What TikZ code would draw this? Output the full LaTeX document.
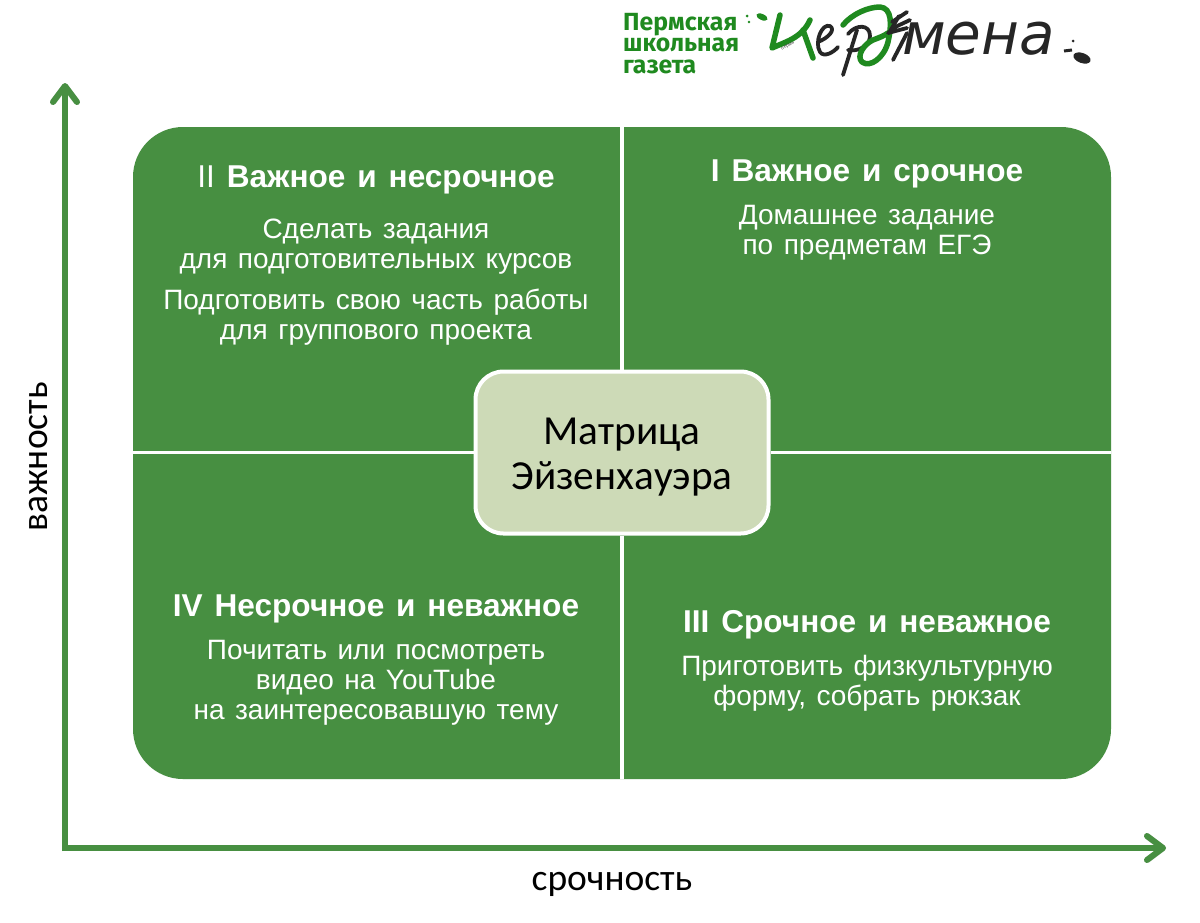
\documentclass[tikz,border=0pt]{standalone}
\usepackage{fontspec}
\setmainfont[WordSpace=1.35]{Liberation Sans}
\newfontfamily\calfont{Carlito}
\newfontfamily\logofont{Fira Sans}
\newfontfamily\handfont{DejaVu Sans}
\usetikzlibrary{arrows.meta}
\definecolor{mgreen}{HTML}{478F41}
\definecolor{cgreen}{HTML}{CDDAB7}
\definecolor{lgreen}{HTML}{1F8A1F}
\definecolor{shadowgrey}{HTML}{DADADA}
\tikzset{
  x=1pt,y=-1pt,
  quad/.style={inner sep=0,align=center,text=white,font=\fontsize{31.6}{34}\selectfont,anchor=center},
  body/.style={inner sep=0,align=center,text=white,font=\fontsize{28}{30}\selectfont,anchor=center},
  axisline/.style={draw=mgreen,line width=6pt,-{Straight Barb[length=16pt,width=24pt,line width=6pt,round]}},
  axisshadow/.style={draw=shadowgrey,line width=6pt,-{Straight Barb[length=16pt,width=24pt,line width=6pt,round]}},
  axislabel/.style={inner sep=0,font=\calfont\fontsize{37.5}{40}\selectfont},
  logotext/.style={inner sep=0,anchor=west,align=left,text=lgreen,font=\logofont\bfseries\fontsize{24.8}{21.5}\selectfont},
  logoink/.style={draw=black!85,line width=3.8pt,line cap=round,line join=round},
  logogreen/.style={draw=lgreen,line width=5.5pt,line cap=round,line join=round},
  divider/.style={draw=white,line width=3.5pt},
  centerbox/.style={draw=white,line width=4pt,fill=cgreen,rounded corners=28pt,minimum width=293pt,minimum height=162pt,inner sep=0,align=center,font=\calfont\fontsize{41.3}{45.5}\selectfont}
}
\begin{document}
\begin{tikzpicture}
\useasboundingbox (0,0) rectangle (1200,922);
\fill[white] (0,0) rectangle (1200,922);
% matrix
\fill[mgreen,rounded corners=50pt] (133,127) rectangle (1111,779);
\node[centerbox] (center) at (622,452.5) {\rule{0pt}{36pt}Матрица\\Эйзенхауэра};
\coordinate (ctop) at (center.north |- 0,127);
\coordinate (cbot) at (center.south |- 0,779);
\coordinate (cleft) at (133,452.5);
\coordinate (cright) at (1111,452.5);
\draw[divider] (ctop) -- (center.north);
\draw[divider] (center.south) -- (cbot);
\draw[divider] (cleft) -- (center.west);
\draw[divider] (center.east) -- (cright);
% quadrant texts
\node[quad] (q2) at (376,179.5) {II \textbf{Важное и несрочное}};
\node[body] (q2a) at (376,247) {Сделать задания\\для подготовительных курсов};
\node[body] (q2b) at (376,317) {Подготовить свою часть работы\\для группового проекта};
\node[quad] (q1) at (867,173.5) {\textbf{I Важное и срочное}};
\node[body] (q1a) at (867,233) {Домашнее задание\\по предметам ЕГЭ};
\node[quad] (q4) at (376,608.5) {\textbf{IV Несрочное и неважное}};
\node[body] (q4a) at (376,683) {Почитать или посмотреть\\видео на YouTube\\на заинтересовавшую тему};
\node[quad] (q3) at (867,624.5) {\textbf{III Срочное и неважное}};
\node[body] (q3a) at (867,683) {Приготовить физкультурную\\форму, собрать рюкзак};
% axes
\coordinate (ytip) at (65,83);
\coordinate (xtip) at (1166,848);
\coordinate (ybase) at (65,851);
\coordinate (xbase) at (62,848);
\begin{scope}[shift={(1,3)}]
\draw[axisshadow] (ybase) -- (ytip);
\draw[axisshadow] (xbase) -- (xtip);
\end{scope}
\draw[axisline] (ybase) -- (ytip);
\draw[axisline] (xbase) -- (xtip);
\node[axislabel,rotate=90] (ylab) at (39,457) {важность};
\node[axislabel] (xlab) at (612,884) {срочность};
% logo text
\node[logotext] (l1) at (623,43.5) {Пермская\\школьная\\газета};
% logo: leaves
\fill[lgreen,rotate around={-25:(762,17)}] (762,17) ellipse (6pt and 3pt);
\fill[lgreen] (747,16) circle (1.5pt) (749,22) circle (1.3pt);
% logo: green letter and tiny word
\draw[logogreen] (780,15) -- (772,48) .. controls (785,42) and (802,38) .. (810,20);
\draw[logogreen] (803,30) -- (813,58);
\node[inner sep=0,rotate=30,text=black!70,font=\fontsize{5}{5}\selectfont] (l5) at (788,46) {пермь};
% logo: black strokes
\draw[logoink] (818,42) .. controls (828,38) and (836,30) .. (830,26) .. controls (822,23) and (814,42) .. (820,52) .. controls (824,58) and (834,52) .. (838,47);
\draw[logoink] (857,30) -- (843,75);
\draw[logoink] (848,34) .. controls (856,24) and (870,24) .. (870,36) .. controls (870,46) and (858,52) .. (848,50);
\draw[logogreen] (843,25) .. controls (852,14) and (868,7) .. (880,7) .. controls (892,8) and (892,24) .. (888,42) .. controls (884,58) and (870,68) .. (862,62) .. controls (856,56) and (864,44) .. (873,40) .. controls (878,38) and (884,36) .. (888,33);
\draw[logoink] (892,22) -- (907,12) (893,28) -- (910,20) (888,33) -- (907,28);
\draw[logoink] (899,16) -- (889,33);
\draw[logoink] (907,33) -- (893,60);
% logo: rest of the word
\node[inner sep=0,anchor=base west,text=black!85,font=\handfont\itshape\fontsize{58}{58}\selectfont] (l4) at (902,54) {мена};
% logo: end marks
\fill[black!85,rotate around={-20:(1082,58)}] (1082,58) ellipse (9pt and 5pt);
\fill[black!85] (1073,41) circle (1.5pt);
\draw[black!85,line width=3pt] (1064,51) -- (1072,50);
\end{tikzpicture}
\end{document}
